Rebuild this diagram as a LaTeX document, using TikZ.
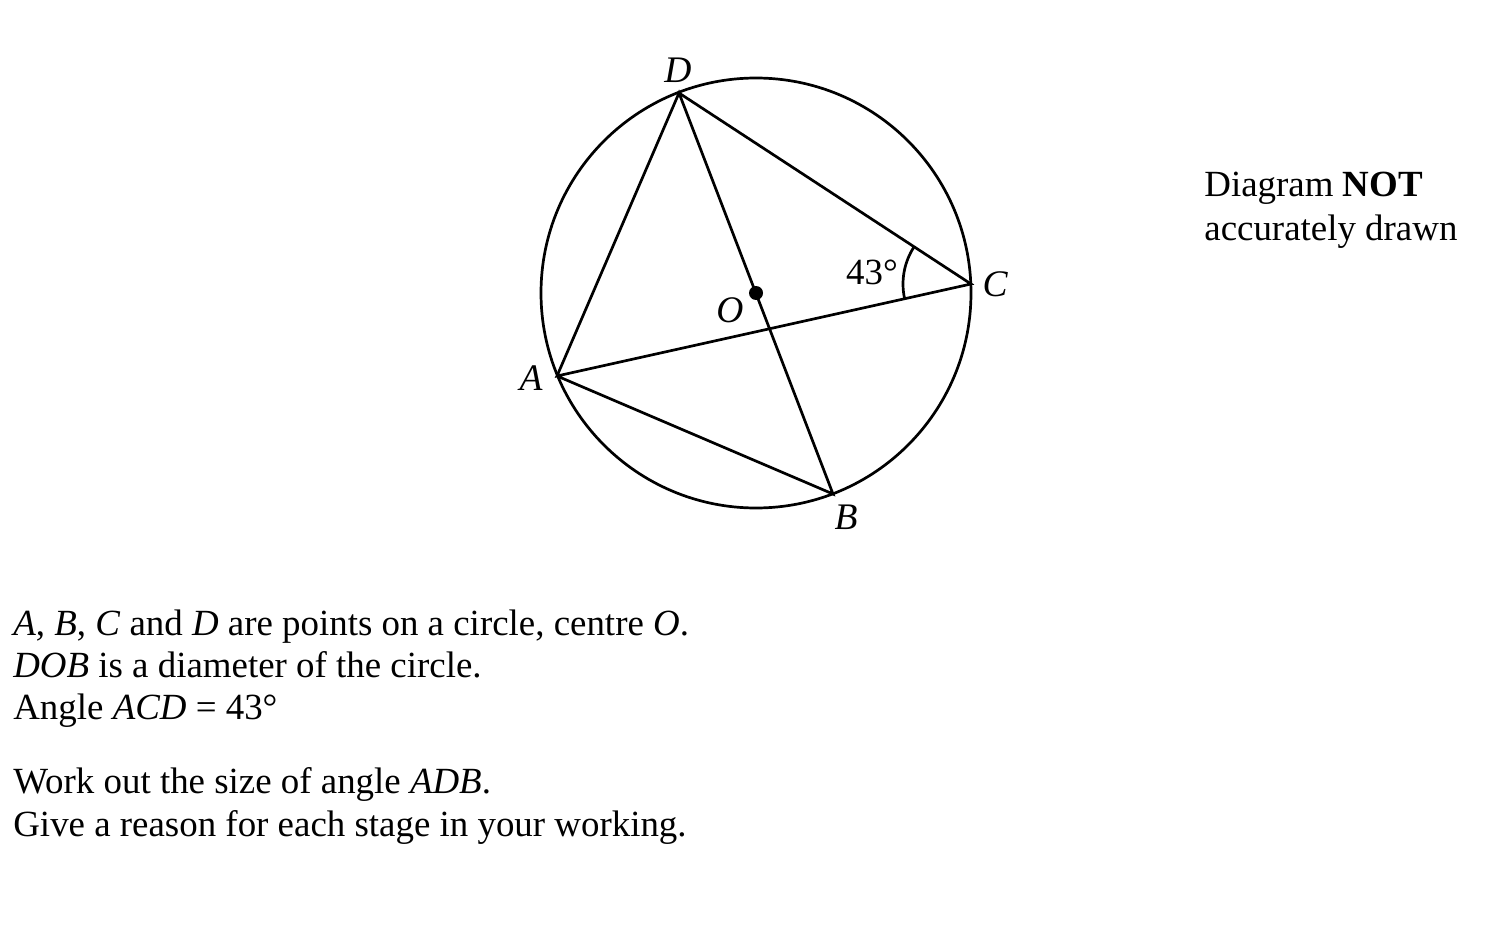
\documentclass[tikz,border=0pt]{standalone}
\usepackage{fontspec}
\setmainfont{Liberation Serif}
\usetikzlibrary{calc, positioning}

\tikzset{
  pointlabel/.style={font=\fontsize{12.5}{14}\selectfont\itshape, inner sep=0pt},
  textline/.style={anchor=base west, inner sep=0pt},
}

\begin{document}
\begin{tikzpicture}[x=0.3333pt, y=-0.3333pt, line width=0.9pt, font=\fontsize{12.3}{14}\selectfont]
    \useasboundingbox (0,0) rectangle (1486,926);
    % points on the circle
    \coordinate (O) at (756,293);
    \coordinate (D) at (679,93);
    \coordinate (C) at (971,284);
    \coordinate (A) at (557,376);
    \coordinate (B) at (833,494);
    \draw (O) circle[radius=215];
    \draw (D) -- (C) -- (A) -- (D) -- (B) -- (A);
    \fill (O) circle[radius=7];
    % angle at C
    \draw (C) ++(167.5:68) arc[start angle=167.5, end angle=213.2, radius=68];
    \node[inner sep=0pt] (ang) at (872,272) {43°};
    % labels
    \node[pointlabel] (lD) at (678,70) {D};
    \node[pointlabel] (lC) at (995,284) {C};
    \node[pointlabel] (lA) at (531,378) {A};
    \node[pointlabel] (lB) at (846,517) {B};
    \node[pointlabel] (lO) at (730,310) {O};
    % note
    \node[textline] (note1) at (1203,197) {Diagram \textbf{NOT}};
    \node[textline] (note2) at (1203,240) {accurately drawn};
    % question text
    \node[textline] (q1) at (12,635) {\textit{A}, \textit{B}, \textit{C} and \textit{D} are points on a circle, centre \textit{O}.};
    \node[textline] (q2) at (12,677) {\textit{DOB} is a diameter of the circle.};
    \node[textline] (q3) at (12,719) {Angle \textit{ACD} = 43°};
    \node[textline] (q4) at (12,793) {Work out the size of angle \textit{ADB}.};
    \node[textline] (q5) at (12,836) {Give a reason for each stage in your working.};
\end{tikzpicture}
\end{document}
